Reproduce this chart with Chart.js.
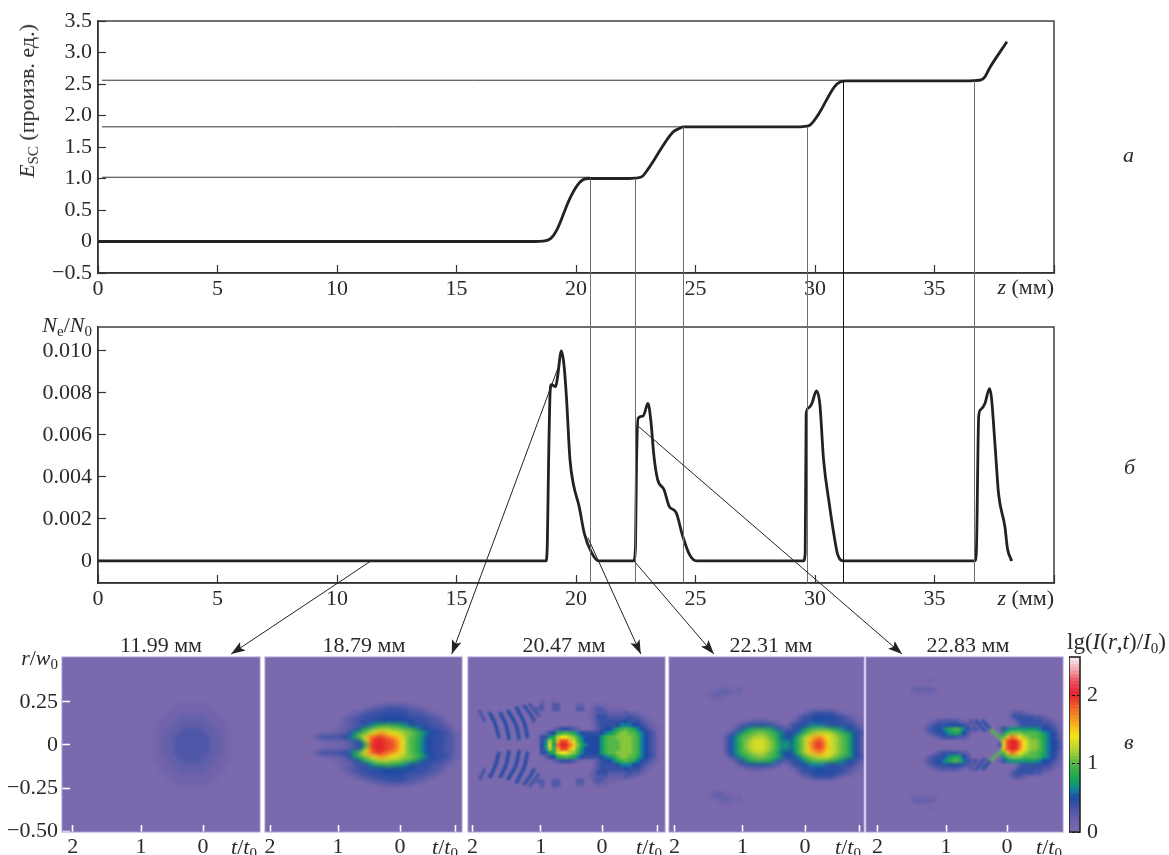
<!DOCTYPE html>
<html>
<head>
<meta charset="utf-8">
<style>
  html, body { margin: 0; background: #fff; }
  #page { position: relative; width: 1169px; height: 855px; overflow: hidden; font-family: "Liberation Serif", serif; color: #2a2a2a; }
  canvas { position: absolute; }
  .lab { position: absolute; white-space: nowrap; font-size: 22px; line-height: 20px; }
  .lab i { font-style: italic; }
  .lab sub { font-size: 15px; line-height: 0; vertical-align: -4px; }
</style>
</head>
<body>
<div id="page">
  <canvas id="chartA"></canvas>
  <canvas id="chartB"></canvas>
  <canvas id="panel0"></canvas>
  <canvas id="panel1"></canvas>
  <canvas id="panel2"></canvas>
  <canvas id="panel3"></canvas>
  <canvas id="panel4"></canvas>
  <canvas id="bar"></canvas>
  <canvas id="links"></canvas>

  <div class="lab" style="left:27px;top:101px;transform:translate(-50%,-50%) rotate(-90deg)"><i>E</i><sub>SC</sub> (произв. ед.)</div>
  <div class="lab" style="right:115px;top:277px"><i>z</i> (мм)</div>
  <div class="lab" style="right:115px;top:588px"><i>z</i> (мм)</div>
  <div class="lab" style="right:1077px;top:315px"><i>N</i><sub>e</sub>/<i>N</i><sub>0</sub></div>
  <div class="lab" style="left:1123px;top:145px"><i>а</i></div>
  <div class="lab" style="left:1124px;top:457px"><i>б</i></div>
  <div class="lab" style="left:1124px;top:732px"><i>в</i></div>
  <div class="lab" style="right:1111px;top:648px"><i>r</i>/<i>w</i><sub>0</sub></div>
  <div class="lab" style="left:1067px;top:632px;font-size:23px">lg(<i>I</i>(<i>r</i>,<i>t</i>)/<i>I</i><sub>0</sub>)</div>
  <div class="lab" style="left:161px;top:635px;transform:translateX(-50%)">11.99 мм</div>
  <div class="lab" style="left:364px;top:635px;transform:translateX(-50%)">18.79 мм</div>
  <div class="lab" style="left:564px;top:635px;transform:translateX(-50%)">20.47 мм</div>
  <div class="lab" style="left:771px;top:635px;transform:translateX(-50%)">22.31 мм</div>
  <div class="lab" style="left:968px;top:635px;transform:translateX(-50%)">22.83 мм</div>
  <div class="lab" style="left:231px;top:837px"><i>t</i>/<i>t</i><sub>0</sub></div>
  <div class="lab" style="left:432px;top:837px"><i>t</i>/<i>t</i><sub>0</sub></div>
  <div class="lab" style="left:636px;top:837px"><i>t</i>/<i>t</i><sub>0</sub></div>
  <div class="lab" style="left:835px;top:837px"><i>t</i>/<i>t</i><sub>0</sub></div>
  <div class="lab" style="left:1036px;top:837px"><i>t</i>/<i>t</i><sub>0</sub></div>
</div>

<script src="https://cdn.jsdelivr.net/npm/chart.js@4"></script>
<script>
// curve a: space-charge field against z
const zA = [0, 5, 10, 15, 18.3, 18.6, 18.95, 19.2, 19.75, 20.16, 20.48, 20.7, 22.2, 22.45, 22.76, 23.0, 24.05, 24.3, 24.5, 24.8, 29.3, 29.5, 29.78, 30.13, 30.82, 31.05, 31.3, 31.6, 36.4, 36.7, 36.95, 37.1, 37.3, 38.03];
const eA = [0, 0, 0, 0, 0, 0.005, 0.05, 0.185, 0.69, 0.94, 1.0, 1.0, 1.0, 1.005, 1.03, 1.14, 1.735, 1.79, 1.82, 1.82, 1.82, 1.825, 1.845, 2.01, 2.46, 2.53, 2.55, 2.55, 2.55, 2.555, 2.565, 2.61, 2.75, 3.17];

// curve b: electron density against z
const zB = [0, 5, 10, 15, 18.6, 18.74, 18.8, 18.85, 18.92, 18.97, 19.15, 19.22, 19.39, 19.5, 19.6, 19.75, 19.9, 20.13, 20.35, 20.65, 20.95, 22.3, 22.41, 22.49, 22.53, 22.6, 22.81, 23.01, 23.13, 23.26, 23.41, 23.68, 23.9, 24.19, 24.46, 24.75, 25.05, 29.4, 29.52, 29.59, 29.63, 29.74, 29.87, 30.06, 30.2, 30.36, 30.6, 30.8, 30.95, 31.2, 36.55, 36.68, 36.75, 36.85, 36.93, 37.11, 37.3, 37.38, 37.54, 37.68, 37.95, 38.05, 38.23];
const nB = [0, 0, 0, 0, 0, 0, 0.0008, 0.0045, 0.0081, 0.0084, 0.0083, 0.0087, 0.01, 0.0093, 0.0078, 0.0048, 0.0036, 0.0026, 0.0013, 0.0004, 0, 0, 0, 0.0007, 0.0045, 0.0068, 0.0069, 0.0075, 0.0067, 0.005, 0.0039, 0.0034, 0.0026, 0.0023, 0.0012, 0.0003, 0, 0, 0, 0.0004, 0.007, 0.0073, 0.0075, 0.0081, 0.0075, 0.0048, 0.0027, 0.0012, 0.0003, 0, 0, 0, 0.0004, 0.0069, 0.0072, 0.0075, 0.0082, 0.0078, 0.0054, 0.0032, 0.0016, 0.0006, 0];

const xTicks = [0, 5, 10, 15, 20, 25, 30, 35, 40];
const aTicks = [-0.5, 0, 0.5, 1, 1.5, 2, 2.5, 3, 3.5];
const bTicks = [0, 0.002, 0.004, 0.006, 0.008, 0.01];

// plateau read-offs joining the two plots
const guideZ = [20.59, 22.45, 24.46, 29.66, 31.17, 36.67];
const guideE = [1.0, 1.0, 1.82, 1.82, 2.55, 2.55];
const levelE = [1.02, 1.82, 2.56];
const levelEnd = [20.59, 24.46, 31.17];

// arrows from curve b to the panel tops: z, Ne/N0, column in the panel
const arrowZ = [11.42, 19.25, 20.5, 22.43, 22.62];
const arrowN = [0, 0.0092, 0.0011, 0, 0.0064];
const arrowCol = [42.3, 46.7, 43.2, 11.2, 9];

// intensity maps: one [first column, cells] per row going out from r = 0, mirrored below the axis
// cell characters are lg(I/I0) in tenths: . 1-9 then a = 1.0 ... k = 2.0
const cellCode = '.123456789abcdefghijklm';
const rowStep = 0.02326;

const map0Rows = [
  [23, '1122233333333322211'],
  [23, '1122233333333322211'],
  [23, '1122233333333322211'],
  [23, '1112223333333222111'],
  [23, '1112222333332222111'],
  [24, '11122222222222111'],
  [24, '11112222222221111'],
  [25, '111122222221111'],
  [26, '1111111111111'],
  [27, '11111111111'],
  [28, '111111111'],
];
const map1Rows = [
  [15, '11111223458jkkkjjigeba986554443321'],
  [15, '1111123457eikkkjjigeba986554443321'],
  [12, '23444445568adfijkjihgfdba986554443321'],
  [16, '11223579abdeggfeedcbba98655444321'],
  [17, '112234579abcccbbbaa986554443321'],
  [18, '11223345678899887655444433321'],
  [19, '223344445555555555444433321'],
  [20, '2233444445555554444433321'],
  [22, '223344444444443333221'],
  [25, '223334444433322'],
  [28, '122222221'],
];
const map2Rows = [
  [18, '57d7ikkifb8655579aaabbba965431'],
  [18, '46c8gjjgda7555579aaabbba965431'],
  [18, '4478ceecb96555579aabbbba965431'],
  [19, '24589a986544445678abbaa865431'],
  [21, '2344432...13455689a98654321'],
  [31, '1344445666554321'],
  [31, '234444445444321'],
  [30, '124443333343321'],
  [30, '1233322223221'],
  [17, '33..33....33..23321111'],
  [18, '3..33....22..1211'],
  [18, '1..1'],
];
const map3Rows = [
  [14, '3568abcdddcba868679bdhjkjfdcba97542'],
  [14, '3568abcdddcba867579bdgijifdcba97542'],
  [14, '3568aabcccba9755579bdfghgedcba97542'],
  [15, '34689aabbaa98655568abcdddcba987543'],
  [16, '24578999986533345689aaaa987655432'],
  [17, '23455555432..3445566665554444321'],
  [19, '112221......23444555444443321'],
  [32, '244455555544321'],
  [34, '2344444321'],
  [0, ''],
  [0, ''],
  [0, ''],
  [10, '1221'],
  [10, '122222.2'],
  [12, '1221.2'],
];
const map4Rows = [
  [33, '4djkkiecbba86553'],
  [34, 'fjkkhecbba86553'],
  [17, '234444332........afigecbaa986542'],
  [15, '23445678753........7abbbaaaa976542'],
  [14, '13445689a9643......2467777777655431'],
  [15, '234445555432...........34444444321'],
  [16, '123333321............24444443321'],
  [36, '3444443321'],
  [36, '23321'],
  [0, ''],
  [0, ''],
  [0, ''],
  [0, ''],
  [11, '1111111'],
  [11, '1222221'],
  [0, ''],
  [15, '11'],
];
const mapRows = [map0Rows, map1Rows, map2Rows, map3Rows, map4Rows];

// thin fringes: lg(I/I0), then [column, row] along each one
const map2Lines = [
  [0.35, [2.3, 8.75], [3.75, 5.8]],
  [0.5, [4.8, 8.2], [6.1, 5.8], [7.3, 1.7]],
  [0.5, [7.5, 8.2], [9, 5], [9.8, 1.3]],
  [0.5, [9.4, 8.75], [11.5, 5], [12.3, 1.3]],
  [0.5, [11.5, 9.6], [13.6, 5.4], [14.4, 1.7]],
  [0.45, [13.4, 10], [15.25, 7.5], [16.1, 5.8]],
  [0.35, [14.8, 10.4], [17.3, 7.1]],
];
const map4Lines = [
  [0.4, [25.5, 6.2], [27.3, 3.5]],
  [0.45, [26.8, 6.3], [29.3, 3.3]],
  [0.5, [28.5, 6.25], [30.5, 4]],
  [1.0, [30.5, 4], [33.6, 1.2]],
];
const mapLines = [[], [], map2Lines, [], map4Lines];
const mapBlur = [2.2, 2, 1.3, 2, 1.4];

const panelLeft = [62, 265, 468, 669, 866];
const panelRight = [260, 462, 665, 864, 1063];
// tick places in cell columns, labelled 2, 1, 0 and an unlabelled one on some panels
const tickCols = [
  [2.67, 19.75, 35.25],
  [1.25, 18.25, 33.75, 47.5],
  [1.1, 18.2, 33.5, 47.25],
  [1.4, 18.4, 34, 47.5],
  [2.9, 20, 35.25],
];
const tickNames = ['2', '1', '0', ''];
const rTicks = [-0.5, -0.25, 0, 0.25];

// colour bar
const barSteps = [0, 0.05, 0.1, 0.15, 0.2, 0.25, 0.3, 0.35, 0.4, 0.45, 0.5, 0.55, 0.6, 0.65, 0.7, 0.75, 0.8, 0.85, 0.9, 0.95, 1, 1.05, 1.1, 1.15, 1.2, 1.25, 1.3, 1.35, 1.4, 1.45, 1.5, 1.55, 1.6, 1.65, 1.7, 1.75, 1.8, 1.85, 1.9, 1.95, 2, 2.05, 2.1, 2.15, 2.2, 2.25, 2.3, 2.35, 2.4, 2.45, 2.5];
const barTicks = [0, 1, 2];
const stopValues = [0, 0.1, 0.2, 0.3, 0.4, 0.5, 0.6, 0.7, 0.8, 1.0, 1.2, 1.4, 1.6, 1.8, 2.0, 2.2, 2.35, 2.55];
const stopColors = ['#7b69ae', '#7264ac', '#6460aa', '#4f58a8', '#3550a5', '#1f4aa3', '#127f9e', '#0f9a70', '#1fa84f', '#55b848', '#b8d333', '#f4e61a', '#f7a51f', '#f2662a', '#e3252b', '#ee5060', '#f4a0aa', '#fbeef0'];

const serif = 'Liberation Serif';
const axisColor = '#333';

function colorFor(v) {
  let i = 0;
  while (i < stopValues.length - 2 && v > stopValues[i + 1]) i++;
  const f = Math.min(1, (v - stopValues[i]) / (stopValues[i + 1] - stopValues[i]));
  const a = stopColors[i], b = stopColors[i + 1];
  const c = [1, 3, 5].map(p => {
    const p0 = parseInt(a.substr(p, 2), 16), p1 = parseInt(b.substr(p, 2), 16);
    return Math.round(p0 + (p1 - p0) * f);
  });
  return `rgb(${c[0]},${c[1]},${c[2]})`;
}

function place(id, left, top, width, height) {
  const c = document.getElementById(id);
  c.width = width;
  c.height = height;
  c.style.left = left + 'px';
  c.style.top = top + 'px';
  return c;
}

// keep tick labels from pushing the plot area around
function noOverflow(s) {
  s.paddingTop = 0;
  s.paddingBottom = 0;
  s.paddingLeft = 0;
  s.paddingRight = 0;
}

const framePlugin = {
  id: 'frame',
  afterDraw(chart, args, opts) {
    const a = chart.chartArea, ctx = chart.ctx;
    ctx.save();
    ctx.strokeStyle = opts.color || axisColor;
    ctx.lineWidth = opts.width || 1.4;
    ctx.strokeRect(a.left, a.top, a.right - a.left, a.bottom - a.top);
    ctx.restore();
  }
};

// blurs the cells a little so the coarse grid reads as a smooth map
const softenPlugin = {
  id: 'soften',
  beforeDatasetsDraw(chart) {
    const a = chart.chartArea, ctx = chart.ctx;
    ctx.save();
    ctx.fillStyle = stopColors[0];
    ctx.fillRect(a.left, a.top, a.right - a.left, a.bottom - a.top);
    ctx.restore();
  },
  afterDatasetsDraw(chart, args, opts) {
    const a = chart.chartArea, ctx = chart.ctx;
    ctx.save();
    ctx.beginPath();
    ctx.rect(a.left, a.top, a.right - a.left, a.bottom - a.top);
    ctx.clip();
    ctx.filter = `blur(${opts.blur}px)`;
    ctx.drawImage(chart.canvas, 0, 0);
    ctx.restore();
  }
};

function curveChart(canvas, zs, vs, extra, yMin, yMax, yTicks, yLabel, padTop, xHeight) {
  const sets = [{
    data: zs.map((z, i) => ({ x: z, y: vs[i] })),
    showLine: true,
    borderColor: '#222',
    borderWidth: 2.8,
    pointRadius: 0,
    cubicInterpolationMode: 'monotone',
  }].concat(extra);
  return new Chart(canvas, {
    type: 'scatter',
    data: { datasets: sets },
    options: {
      responsive: false,
      animation: false,
      layout: { padding: { top: padTop, right: 1100 - 1054 } },
      plugins: { legend: { display: false }, tooltip: { enabled: false } },
      scales: {
        x: {
          type: 'linear', min: 0, max: 40,
          afterBuildTicks: s => { s.ticks = xTicks.map(value => ({ value })); },
          afterFit: s => { s.height = xHeight; noOverflow(s); },
          grid: { drawOnChartArea: false, tickLength: -8, tickColor: axisColor, tickWidth: 1.2 },
          border: { color: axisColor, width: 1.4 },
          ticks: { color: '#2a2a2a', padding: 11, maxRotation: 0, autoSkip: false, font: { family: serif, size: 22 }, callback: v => (v === 40 ? '' : String(v)) },
        },
        y: {
          type: 'linear', min: yMin, max: yMax,
          afterBuildTicks: s => { s.ticks = yTicks.map(value => ({ value })); },
          afterFit: s => { s.width = 98; noOverflow(s); },
          grid: { drawOnChartArea: false, tickLength: -8, tickColor: axisColor, tickWidth: 1.2 },
          border: { color: axisColor, width: 1.4 },
          ticks: { color: '#2a2a2a', padding: 14, autoSkip: false, font: { family: serif, size: 22 }, callback: yLabel },
        },
      },
    },
    plugins: [framePlugin],
  });
}

const levelSets = levelE.map((e, i) => ({
  data: [{ x: 0.17, y: e }, { x: levelEnd[i], y: e }],
  showLine: true,
  borderColor: '#333',
  borderWidth: 1,
  pointRadius: 0,
}));

const chartA = curveChart(place('chartA', 0, 0, 1100, 300), zA, eA, levelSets, -0.5, 3.5, aTicks,
  v => (v === 0 ? '0' : v < 0 ? '\u2212' + Math.abs(v).toFixed(1) : v.toFixed(1)), 21, 27);
const chartB = curveChart(place('chartB', 0, 310, 1100, 300), zB, nB, [], -0.00105, 0.01114, bTicks,
  v => (v === 0 ? '0' : v.toFixed(3)), 17, 27);

function mapCells(rows) {
  const cells = [];
  rows.forEach((row, k) => {
    const [first, text] = row;
    [...text].forEach((ch, i) => {
      const idx = cellCode.indexOf(ch);
      if (idx <= 0) return;
      const v = idx / 10;
      cells.push({ x: first + i + 0.5, y: k * rowStep, v });
      if (k > 0) cells.push({ x: first + i + 0.5, y: -k * rowStep, v });
    });
  });
  return cells;
}

function fringeSets(lines) {
  const sets = [];
  lines.forEach(([v, ...pts]) => {
    [1, -1].forEach(sign => {
      sets.push({
        data: pts.map(([col, k]) => ({ x: col + 0.5, y: sign * k * rowStep })),
        showLine: true,
        borderColor: colorFor(v),
        borderWidth: 3.2,
        pointRadius: 0,
        tension: 0.3,
      });
    });
  });
  return sets;
}

const panels = mapRows.map((rows, i) => {
  const pad = i === 0 ? 0 : 10;
  const left = i === 0 ? 0 : panelLeft[i] - pad;
  const w = panelRight[i] - left + 10;
  const cells = mapCells(rows);
  return new Chart(place('panel' + i, left, 650, w, 205), {
    type: 'scatter',
    data: {
      datasets: [{
        data: cells,
        pointStyle: 'rect',
        pointRadius: 3.1,
        pointBorderWidth: 0,
        backgroundColor: cells.map(c => colorFor(c.v)),
      }].concat(fringeSets(mapLines[i])),
    },
    options: {
      responsive: false,
      animation: false,
      layout: { padding: { top: 7, right: 10, left: pad } },
      plugins: { legend: { display: false }, tooltip: { enabled: false }, frame: { color: '#a79ad0', width: 1 }, soften: { blur: mapBlur[i] } },
      scales: {
        x: {
          type: 'linear', min: 0, max: (panelRight[i] - panelLeft[i]) / 4,
          afterBuildTicks: s => { s.ticks = tickCols[i].map(value => ({ value })); },
          afterFit: s => { s.height = 23; noOverflow(s); },
          grid: { z: 1, drawOnChartArea: false, tickLength: -7, tickColor: '#fff', tickWidth: 1.6 },
          border: { display: false },
          ticks: { color: '#2a2a2a', padding: 9, maxRotation: 0, autoSkip: false, font: { family: serif, size: 22 }, callback: (v, n) => tickNames[n] },
        },
        y: {
          type: 'linear', min: -0.5058, max: 0.5116, display: i === 0,
          afterBuildTicks: s => { s.ticks = rTicks.map(value => ({ value })); },
          afterFit: s => { s.width = i === 0 ? 62 : 0; noOverflow(s); },
          grid: { z: 1, drawOnChartArea: false, tickLength: -8, tickColor: '#fff', tickWidth: 1.6 },
          border: { display: false },
          ticks: { color: '#2a2a2a', padding: 12, autoSkip: false, font: { family: serif, size: 22 }, callback: v => (v === 0 ? '0' : v < 0 ? '\u2212' + Math.abs(v).toFixed(2) : v.toFixed(2)) },
        },
      },
    },
    plugins: [softenPlugin, framePlugin],
  });
});

const barChart = new Chart(place('bar', 1069, 650, 60, 205), {
  type: 'bar',
  data: {
    labels: ['lg'],
    datasets: barSteps.map(v => ({
      data: [[v, v + 0.055]],
      backgroundColor: colorFor(v + 0.025),
      barPercentage: 1,
      categoryPercentage: 1,
      grouped: false,
    })),
  },
  options: {
    responsive: false,
    animation: false,
    layout: { padding: { top: 7, left: 0 } },
    plugins: { legend: { display: false }, tooltip: { enabled: false }, frame: { color: '#222', width: 1.6 } },
    scales: {
      x: { display: false, afterFit: s => { s.height = 23; } },
      y: {
        type: 'linear', position: 'right', min: 0, max: 2.56,
        afterBuildTicks: s => { s.ticks = barTicks.map(value => ({ value })); },
        afterFit: s => { s.width = 60 - 11; noOverflow(s); },
        grid: { z: 1, drawOnChartArea: false, tickLength: -11, tickColor: '#111', tickWidth: 1, tickBorderDash: [3, 2] },
        border: { display: false },
        ticks: { color: '#2a2a2a', padding: 18, autoSkip: false, font: { family: serif, size: 22 }, callback: v => String(v) },
      },
    },
  },
  plugins: [framePlugin],
});

// lines that cross between the charts go on a page-wide canvas, placed through the chart scales
function drawLinks() {
  const canvas = place('links', 0, 0, 1169, 855);
  const ctx = canvas.getContext('2d');
  const ax = chartA.scales.x, ay = chartA.scales.y, bx = chartB.scales.x, by = chartB.scales.y;
  const bTop = 310;
  guideZ.forEach((z, i) => {
    const x = Math.round(ax.getPixelForValue(z)) + 0.5;
    ctx.beginPath();
    ctx.moveTo(x, ay.getPixelForValue(guideE[i]));
    ctx.lineTo(x, bTop + by.bottom);
    ctx.strokeStyle = i === 4 ? '#111' : '#6e6e6e';
    ctx.lineWidth = 1;
    ctx.stroke();
  });
  arrowZ.forEach((z, i) => {
    const p = panels[i];
    const x0 = bx.getPixelForValue(z), y0 = bTop + by.getPixelForValue(arrowN[i]);
    const x1 = panelLeft[i] + p.scales.x.getPixelForValue(arrowCol[i]) - p.chartArea.left;
    const y1 = 654;
    ctx.beginPath();
    ctx.moveTo(x0, y0);
    ctx.lineTo(x1, y1);
    ctx.strokeStyle = '#222';
    ctx.lineWidth = 1;
    ctx.stroke();
    const ang = Math.atan2(y1 - y0, x1 - x0);
    ctx.save();
    ctx.translate(x1, y1);
    ctx.rotate(ang);
    ctx.beginPath();
    ctx.moveTo(0, 0);
    ctx.lineTo(-14, -5);
    ctx.lineTo(-11, 0);
    ctx.lineTo(-14, 5);
    ctx.closePath();
    ctx.fillStyle = '#222';
    ctx.fill();
    ctx.restore();
  });
}
drawLinks();
</script>
</body>
</html>
